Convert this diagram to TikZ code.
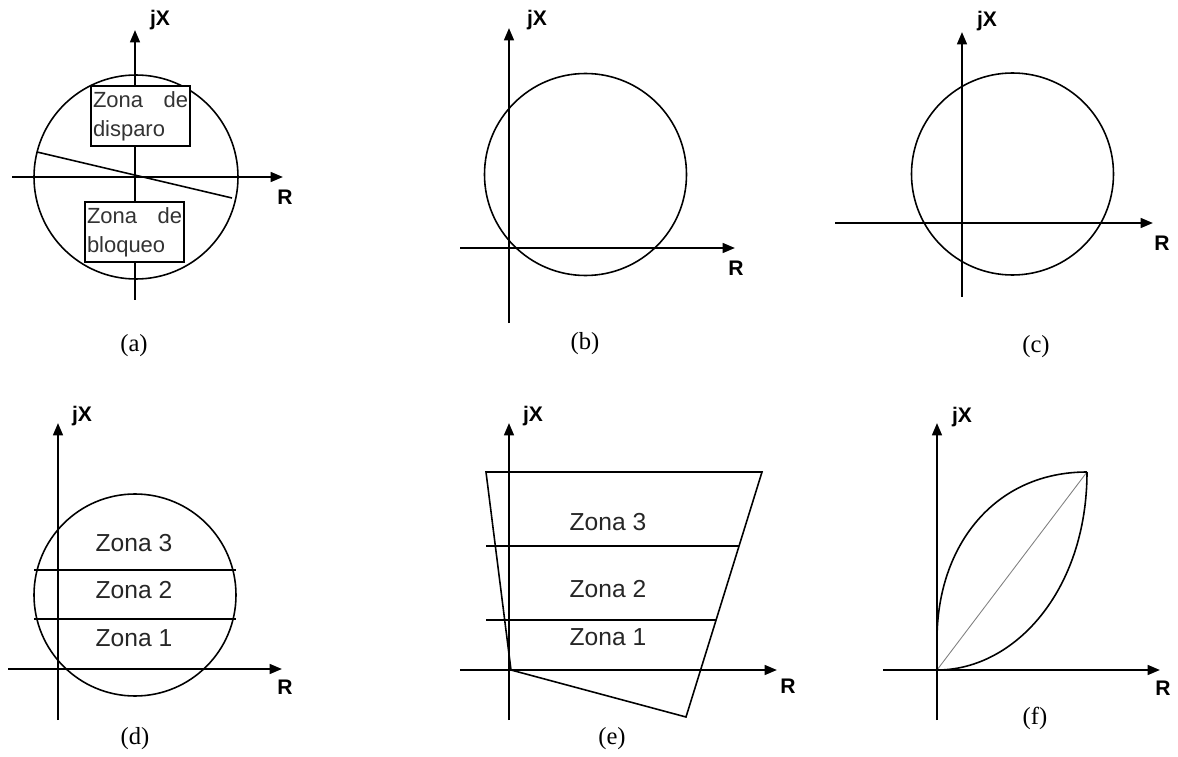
\documentclass[tikz,border=0pt]{standalone}
\usepackage{fontspec}
\setmainfont{Liberation Sans}
\newfontfamily\capfont{Liberation Serif}
\usetikzlibrary{arrows.meta}

\begin{document}
\begin{tikzpicture}[x=0.02cm, y=-0.02cm,
	axis/.style={line width=1.3pt, -{Triangle[length=7pt, width=5.5pt]}},
	curve/.style={line width=0.9pt},
	lbl/.style={font=\bfseries\fontsize{12}{14}\selectfont, inner sep=0pt},
	zone/.style={font=\fontsize{14}{16}\selectfont, text=black!85, inner sep=0pt},
	zbox/.style={draw, line width=1pt, minimum width=1.94cm, minimum height=1.2cm, text width=1.9cm, inner sep=1pt, align=left, font=\fontsize{12.5}{16.4}\selectfont, text=black!80},
	panel/.style={font=\capfont\fontsize{14}{16}\selectfont, inner sep=0pt}]
			\useasboundingbox (0,0) rectangle (1178,757);
			
			% (a)
			\coordinate (a1) at (12,177);
			\coordinate (a2) at (283,177);
			\coordinate (a3) at (135,300);
			\coordinate (a4) at (135,30);
			\draw[curve] (136,177) circle[radius=102];
			\draw[curve] (37,152) -- (232,198);
			\draw[axis] (a1) -- (a2);
			\draw[axis] (a3) -- (a4);
			\node[zbox, fill=white] (disparo) at (140.5,116) {Zona\hfill de\\disparo};
			\node[zbox, fill=white] (bloqueo) at (134.5,232) {Zona\hfill de\\bloqueo};
			\node[lbl] (jxa) at (160,20) {jX};
			\node[lbl] (ra) at (285,197) {R};
			\node[panel] (capa) at (134,346) {(a)};
			
			% (b)
			\coordinate (b1) at (460,248);
			\coordinate (b2) at (735,248);
			\coordinate (b3) at (509,323);
			\coordinate (b4) at (509,28);
			\draw[curve] (585.5,174.5) circle[radius=101];
			\draw[axis] (b1) -- (b2);
			\draw[axis] (b3) -- (b4);
			\node[lbl] (jxb) at (537,20) {jX};
			\node[lbl] (rb) at (736,268) {R};
			\node[panel] (capb) at (585,344) {(b)};
			
			% (c)
			\coordinate (c1) at (835,223);
			\coordinate (c2) at (1153,223);
			\coordinate (c3) at (962,297);
			\coordinate (c4) at (962,32);
			\draw[curve] (1012.5,174) circle[radius=101];
			\draw[axis] (c1) -- (c2);
			\draw[axis] (c3) -- (c4);
			\node[lbl] (jxc) at (987,21) {jX};
			\node[lbl] (rc) at (1162,243) {R};
			\node[panel] (capc) at (1036,347) {(c)};
			
			% (d)
			\coordinate (d1) at (8,669);
			\coordinate (d2) at (282,669);
			\coordinate (d3) at (58,720);
			\coordinate (d4) at (58,423);
			\draw[curve] (135,595) circle[radius=101];
			\draw[curve] (34,570) -- (236,570);
			\draw[curve] (34,619) -- (236,619);
			\draw[axis] (d1) -- (d2);
			\draw[axis] (d3) -- (d4);
			\node[zone] (d-z3) at (134,543) {Zona 3};
			\node[zone] (d-z2) at (134,590) {Zona 2};
			\node[zone] (d-z1) at (134,638) {Zona 1};
			\node[lbl] (jxd) at (82,416) {jX};
			\node[lbl] (rd) at (285,687) {R};
			\node[panel] (capd) at (135,739) {(d)};
			
			% (e)
			\coordinate (e1) at (460,670);
			\coordinate (e2) at (777,670);
			\coordinate (e3) at (509,720);
			\coordinate (e4) at (509,423);
			\draw[curve] (486,472) -- (762,472) -- (686,717) -- (511,670) -- cycle;
			\draw[curve] (486,546) -- (739,546);
			\draw[curve] (486,620) -- (716,620);
			\draw[axis] (e1) -- (e2);
			\draw[axis] (e3) -- (e4);
			\node[zone] (e-z3) at (608,522) {Zona 3};
			\node[zone] (e-z2) at (608,589) {Zona 2};
			\node[zone] (e-z1) at (608,637) {Zona 1};
			\node[lbl] (jxe) at (533,416) {jX};
			\node[lbl] (re) at (788,686) {R};
			\node[panel] (cape) at (612,739) {(e)};
			
			% (f)
			\coordinate (f1) at (883,670);
			\coordinate (f2) at (1160,670);
			\coordinate (f3) at (937,720);
			\coordinate (f4) at (937,423);
			\coordinate (fo) at (937,670);
			\coordinate (fp) at (1087,472);
			\draw[gray, line width=0.5pt] (fo) -- (fp);
			\draw[curve] (fo) -- (937,640) .. controls (937,545) and (995,472) .. (fp);
			\draw[curve] (fo) .. controls (1015,670) and (1087,590) .. (fp);
			\draw[axis] (f1) -- (f2);
			\draw[axis] (f3) -- (f4);
			\node[lbl] (jxf) at (962,417) {jX};
			\node[lbl] (rf) at (1163,688) {R};
			\node[panel] (capf) at (1035,718) {(f)};
		\end{tikzpicture}
\end{document}
